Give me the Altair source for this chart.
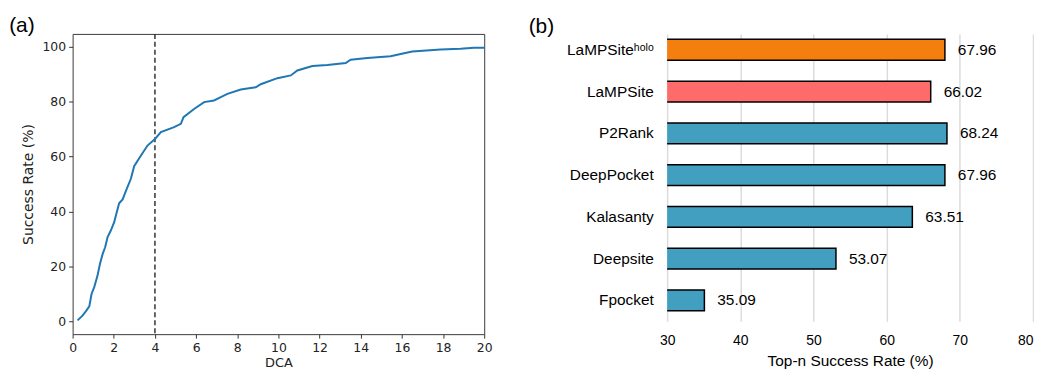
import altair as alt
import pandas as pd

# ---- panel (a): cumulative success rate vs DCA ----
dca = [0.24, 0.49, 0.65, 0.81, 0.92, 1.05, 1.21, 1.33, 1.46, 1.58, 1.70, 1.85,
       2.02, 2.10, 2.26, 2.43, 2.59, 2.83, 2.99, 3.32, 3.64, 4.00, 4.29, 4.93,
       5.26, 5.39, 5.90, 6.39, 6.87, 7.20, 7.52, 8.17, 8.90, 9.14, 9.95, 10.60,
       10.92, 11.65, 12.38, 13.27, 13.51, 14.32, 15.45, 15.94, 16.50, 17.88,
       18.85, 19.50, 20.00]
rate = [0.4, 2.2, 3.8, 5.5, 10.0, 12.5, 16.7, 21.0, 24.6, 27.0, 30.7, 33.0,
        36.1, 38.5, 43.0, 44.4, 47.5, 51.9, 56.5, 60.4, 64.0, 66.4, 68.9, 70.7,
        71.9, 74.3, 77.3, 79.8, 80.4, 81.6, 82.8, 84.4, 85.2, 86.3, 88.5, 89.5,
        91.3, 92.9, 93.3, 94.0, 95.2, 95.8, 96.5, 97.3, 98.2, 98.9,
        99.2, 99.6, 99.6]
cutoff = [4]

# ---- panel (b): top-n success rate per method ----
methods = ["LaMPSiteʰᵒˡᵒ", "LaMPSite", "P2Rank", "DeepPocket", "Kalasanty", "Deepsite", "Fpocket"]
scores = [67.96, 66.02, 68.24, 67.96, 63.51, 53.07, 35.09]
groups = ["holo", "lampsite", "other", "other", "other", "other", "other"]
group_names = ["holo", "lampsite", "other"]
group_colors = ["#F47F0F", "#FF6B6B", "#429FC0"]

left_df = pd.DataFrame({"DCA": dca, "Rate": rate})
cut_df = pd.DataFrame({"DCA": cutoff})
right_df = pd.DataFrame({"method": methods, "score": scores, "group": groups})

dj = "DejaVu Sans"
lib = "Liberation Sans"

x_a = alt.X("DCA:Q",
            scale=alt.Scale(domain=[0, 20], nice=False, zero=False),
            axis=alt.Axis(values=list(range(0, 21, 2)), title="DCA", grid=False,
                          domain=False, tickSize=4, tickColor="#333", labelPadding=3,
                          labelFont=dj, labelFontSize=12.5, labelColor="#222",
                          titleFont=dj, titleFontSize=13, titleFontWeight="normal",
                          titleColor="#222", titlePadding=3, labelFlush=False))
y_a = alt.Y("Rate:Q",
            scale=alt.Scale(domain=[-4.6, 104.6], nice=False, zero=False),
            axis=alt.Axis(values=[0, 20, 40, 60, 80, 100], title="Success Rate (%)",
                          grid=False, domain=False, tickSize=4, tickColor="#333",
                          labelPadding=3, labelFont=dj, labelFontSize=12.5,
                          labelColor="#222", titleFont=dj, titleFontSize=14,
                          titleFontWeight="normal", titleColor="#222", titlePadding=6))

line = alt.Chart(left_df).mark_line(color="#1f77b4", strokeWidth=2).encode(x=x_a, y=y_a)
rule = alt.Chart(cut_df).mark_rule(color="#333", strokeWidth=1.5, strokeDash=[5, 3]).encode(
    x=alt.X("DCA:Q"))

left = (rule + line).properties(
    width=414, height=302,
    view=alt.ViewBackground(stroke="#3a3a3a", strokeWidth=1),
    title=alt.TitleParams("(a)", anchor="start", frame="bounds", font=lib,
                          fontSize=21, fontWeight="normal", color="#000",
                          dx=-13, offset=-3),
)

x_b = alt.X("score:Q",
            scale=alt.Scale(domain=[30, 80], nice=False, zero=False),
            axis=alt.Axis(values=[30, 40, 50, 60, 70, 80], title="Top-n Success Rate (%)",
                          grid=True, gridColor="#dcdcdc", gridWidth=1.5, ticks=False,
                          domain=False, labelPadding=12, labelFont=lib, labelFontSize=14,
                          labelColor="#000", labelFlush=False,
                          labelAlign={"condition": {"test": "datum.value == 80", "value": "right"},
                                      "value": "center"},
                          titleFont=lib, titleFontSize=15.5, titleFontWeight="normal",
                          titleColor="#000", titlePadding=7))
y_b = alt.Y("method:N", sort=methods,
            scale=alt.Scale(paddingInner=0.5, paddingOuter=0.19, align=0.344),
            axis=alt.Axis(title=None, ticks=False, domain=False, grid=False,
                          labelPadding=14, labelFont=lib, labelFontSize=15.5,
                          labelColor="#000"))

bars = alt.Chart(right_df).mark_bar(clip=True, stroke="#000", strokeWidth=1.5).encode(
    x=x_b, y=y_b,
    color=alt.Color("group:N", scale=alt.Scale(domain=group_names, range=group_colors),
                    legend=None))
labels = alt.Chart(right_df).mark_text(align="left", baseline="middle", dx=13,
                                       font=lib, fontSize=15.5, color="#000").encode(
    x=alt.X("score:Q"), y=alt.Y("method:N", sort=methods),
    text=alt.Text("score:Q", format=".2f"))

right = (bars + labels).properties(
    width=368, height=289,
    title=alt.TitleParams("(b)", anchor="start", frame="bounds", font=lib,
                          fontSize=21, fontWeight="normal", color="#000",
                          dx=-38, offset=-3),
)

chart = alt.hconcat(left, right, spacing=35).configure(
    padding={"top": 5, "left": 0, "right": 0, "bottom": 0}, background="white"
).configure_view(stroke="transparent")

chart.save("out.html", embed_options={"renderer": "svg", "actions": False})
